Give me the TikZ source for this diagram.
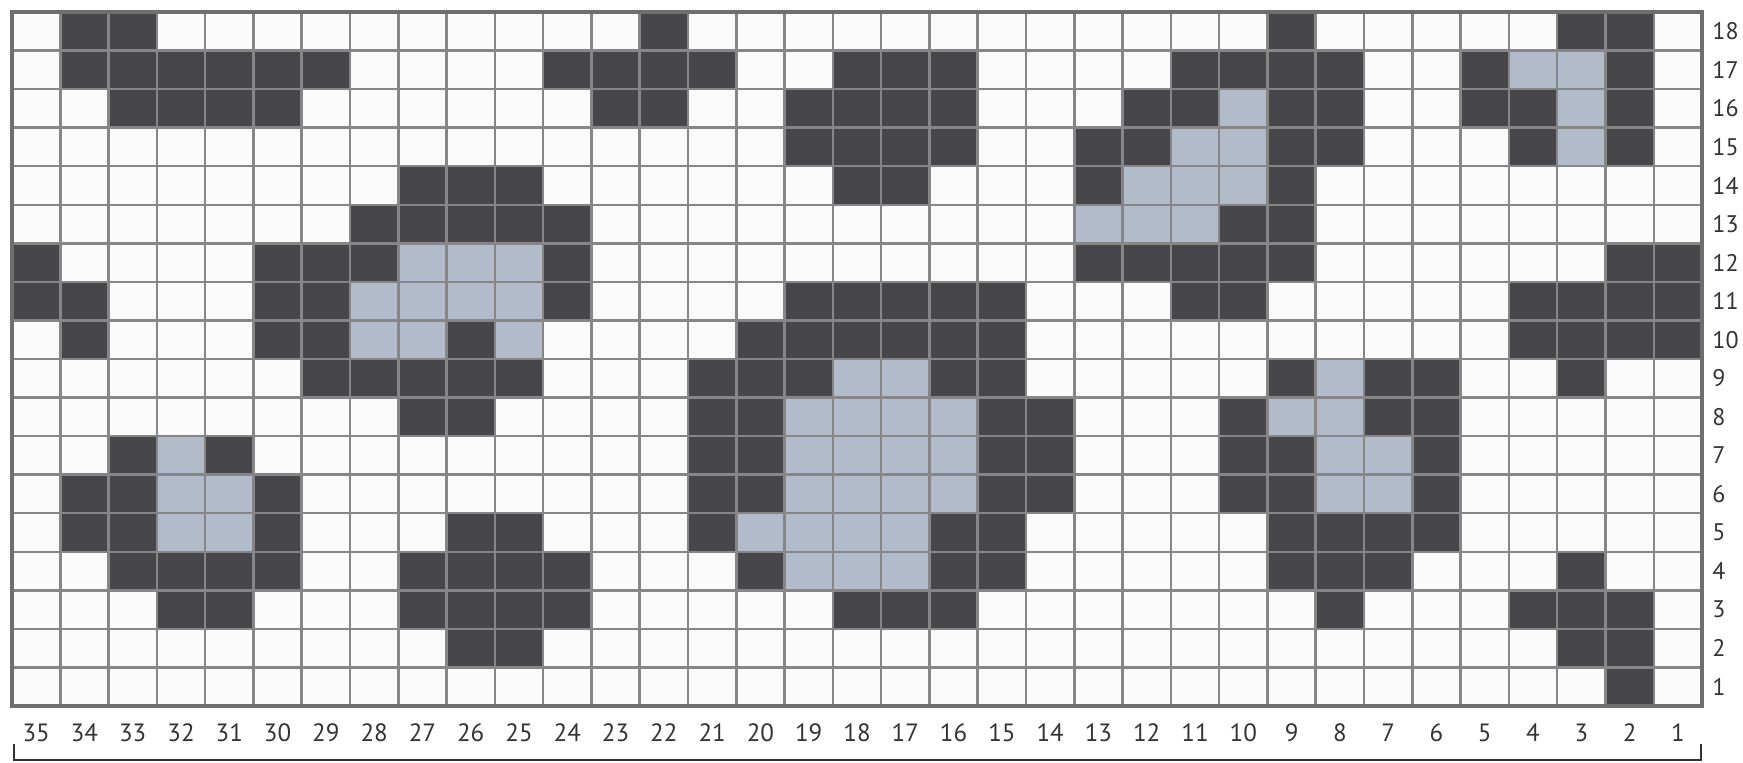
\documentclass[tikz,border=0pt]{standalone}
\usepackage{fontspec}
\setmainfont{PT Sans}
\definecolor{darkcell}{HTML}{47474B}
\definecolor{bluecell}{HTML}{B1BBCA}
\definecolor{whitecell}{HTML}{FBFBFB}
\definecolor{gridline}{HTML}{868686}
\definecolor{gridborder}{HTML}{6E6E6E}
\definecolor{labeltext}{HTML}{333333}
\begin{document}
\begin{tikzpicture}[x=0.5pt,y=-0.5pt,
  gridrule/.style={draw=gridline,line width=1.25pt},
  borderrule/.style={draw=gridborder,line width=1.6pt},
  collabel/.style={font=\fontsize{12.5}{14}\selectfont,text=labeltext,inner sep=0pt,anchor=center},
  rowlabel/.style={font=\fontsize{12}{14}\selectfont,text=labeltext,inner sep=0pt,anchor=west},
  bracketline/.style={draw=labeltext,line width=1pt}]
\useasboundingbox (0,0) rectangle (1743,762);
\def\cw{48.286}
\def\rh{38.556}
\fill[whitecell] (12,12) rectangle (1702,706);
% dark cells: row / list of column indices (0 = leftmost, labelled 35)
\foreach \r/\list in {
  18/{1,2,13,26,32,33},
  17/{1,2,3,4,5,6,11,12,13,14,17,18,19,24,25,26,27,30,33},
  16/{2,3,4,5,12,13,16,17,18,19,23,24,26,27,30,31,33},
  15/{16,17,18,19,22,23,26,27,31,33},
  14/{8,9,10,17,18,22,26},
  13/{7,8,9,10,11,25,26},
  12/{0,5,6,7,11,22,23,24,25,26,33,34},
  11/{0,1,5,6,11,16,17,18,19,20,24,25,31,32,33,34},
  10/{1,5,6,9,15,16,17,18,19,20,31,32,33,34},
  9/{6,7,8,9,10,14,15,16,19,20,26,28,29,32},
  8/{8,9,14,15,20,21,25,28,29},
  7/{2,4,14,15,20,21,25,26,29},
  6/{1,2,5,14,15,20,21,25,26,29},
  5/{1,2,5,9,10,14,19,20,26,27,28,29},
  4/{2,3,4,5,8,9,10,11,15,19,20,26,27,28,32},
  3/{3,4,8,9,10,11,17,18,19,27,31,32,33},
  2/{9,10,32,33},
  1/{33}}{
  \foreach \c in \list {
    \fill[darkcell] ({12+\cw*\c},{12+\rh*(18-\r)}) rectangle ++(\cw,\rh);
  }
}
% blue cells
\foreach \r/\list in {
  17/{31,32},
  16/{25,32},
  15/{24,25,32},
  14/{23,24,25},
  13/{22,23,24},
  12/{8,9,10},
  11/{7,8,9,10},
  10/{7,8,10},
  9/{17,18,27},
  8/{16,17,18,19,26,27},
  7/{3,16,17,18,19,27,28},
  6/{3,4,16,17,18,19,27,28},
  5/{3,4,15,16,17,18},
  4/{16,17,18}}{
  \foreach \c in \list {
    \fill[bluecell] ({12+\cw*\c},{12+\rh*(18-\r)}) rectangle ++(\cw,\rh);
  }
}
% grid lines
\foreach \k in {1,...,34} \draw[gridrule] ({12+\cw*\k},12) -- ({12+\cw*\k},706);
\foreach \k in {1,...,17} \draw[gridrule] (12,{12+\rh*\k}) -- (1702,{12+\rh*\k});
\draw[borderrule] (12,12) rectangle (1702,706);
% column labels
\foreach \i in {0,...,34} {
  \pgfmathtruncatemacro\lab{35-\i}
  \node[collabel] (c\lab) at ({12+\cw*(\i+0.5)},733) {\lab};
}
% row labels
\foreach \r in {1,...,18} {
  \node[rowlabel] (r\r) at (1712,{12+\rh*(18-\r+0.5)}) {\r};
}
% bracket
\coordinate (bl) at (14,744);
\coordinate (br) at (1701,744);
\draw[bracketline] (bl) -- ++(0,16) -| (br);
\end{tikzpicture}
\end{document}
